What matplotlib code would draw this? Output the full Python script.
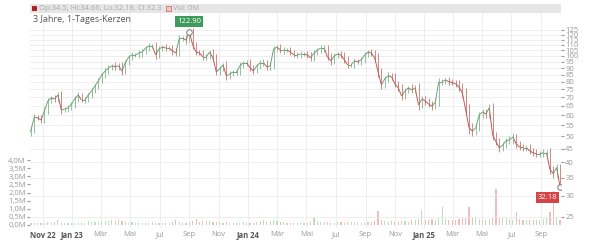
import matplotlib
matplotlib.use("Agg")
import matplotlib.pyplot as plt
import matplotlib.dates as mdates
from matplotlib.patches import Rectangle
from matplotlib.collections import LineCollection
import numpy as np
import pandas as pd

plt.rcParams['font.family'] = ['Open Sans', 'DejaVu Sans']

# weekly candles (close prices)
dates = pd.date_range("2022-10-07", periods=158, freq="7D")
closes = [52.8, 59.1, 58.6, 57.6, 62.3, 67.8, 69.6, 69.0, 71.4, 62.8,
          63.3, 63.9, 66.0, 69.0, 71.4, 68.4, 68.4, 71.4, 74.0, 77.2,
          80.6, 84.9, 87.8, 90.2, 91.8, 91.0, 91.8, 87.8, 94.2, 99.1,
          100.8, 100.8, 102.5, 103.4, 107.0, 108.8, 108.8, 100.8, 106.1, 107.9,
          107.0, 107.0, 104.3, 102.5, 116.4, 116.4, 114.7, 122.9, 109.8, 103.4,
          102.5, 99.1, 99.1, 103.4, 98.3, 87.1, 89.4, 92.5, 84.2, 85.6,
          87.1, 87.1, 91.8, 94.2, 94.2, 90.2, 87.8, 91.8, 94.2, 94.2,
          91.0, 91.8, 106.1, 107.9, 105.2, 105.2, 105.2, 103.4, 100.8, 100.8,
          101.6, 101.6, 100.8, 98.3, 102.5, 105.2, 107.0, 107.0, 99.1, 95.8,
          100.0, 101.6, 100.8, 96.6, 92.5, 92.5, 95.8, 95.0, 96.6, 100.8,
          103.4, 102.5, 98.3, 87.1, 77.9, 82.1, 84.2, 83.5, 78.6, 75.9,
          70.8, 74.0, 75.9, 74.6, 75.9, 65.5, 69.0, 67.8, 66.0, 64.9,
          67.2, 80.0, 80.0, 81.3, 80.0, 79.4, 78.6, 76.5, 72.7, 62.8,
          53.9, 52.3, 53.9, 60.1, 61.7, 60.6, 63.9, 50.6, 47.7, 45.3,
          46.4, 48.1, 48.5, 49.7, 46.8, 45.6, 45.3, 45.3, 44.1, 43.4,
          43.0, 43.0, 43.4, 43.4, 37.5, 36.3, 38.2, 32.3]
first_open = 51.5
last_low = 32.18

# weekly high-low spread around the body, in percent (read from wick lengths)
spreads = [6, 5, 4, 5, 6, 5, 4, 6, 5, 7,
           4, 5, 4, 6, 5, 4, 5, 4, 5, 4,
           5, 4, 6, 5, 4, 6, 5, 7, 5, 4,
           5, 4, 5, 6, 4, 5, 4, 7, 5, 4,
           5, 4, 6, 5, 5, 4, 6, 4, 7, 5,
           4, 6, 5, 4, 6, 6, 5, 4, 7, 5,
           4, 5, 6, 4, 5, 6, 5, 4, 5, 6,
           5, 6, 5, 4, 5, 6, 4, 5, 4, 5,
           6, 4, 5, 6, 5, 4, 5, 6, 5, 7,
           5, 4, 6, 5, 6, 4, 5, 4, 5, 6,
           4, 5, 6, 8, 7, 5, 6, 5, 6, 5,
           7, 5, 4, 6, 5, 9, 5, 6, 5, 6,
           5, 6, 5, 4, 5, 4, 5, 6, 7, 8,
           10, 8, 7, 6, 5, 6, 7, 8, 6, 7,
           6, 5, 6, 7, 6, 5, 6, 5, 6, 5,
           6, 5, 6, 5, 8, 7, 6, 6]

# volume in millions
volumes = [0.12, 0.10, 0.14, 0.12, 0.15, 0.18, 0.13, 0.16, 0.30, 0.14,
           0.12, 0.10, 0.11, 0.13, 0.15, 0.14, 0.12, 0.22, 0.18, 0.16,
           0.20, 0.24, 0.22, 0.26, 0.30, 0.25, 0.35, 0.22, 0.18, 0.15,
           0.16, 0.14, 0.12, 0.15, 0.13, 0.12, 0.18, 0.14, 0.12, 0.10,
           0.12, 0.14, 0.16, 0.30, 0.18, 0.15, 0.14, 0.20, 0.22, 0.35,
           0.20, 0.25, 0.22, 0.24, 0.18, 0.20, 0.16, 0.14, 0.18, 0.12,
           0.10, 0.12, 0.14, 0.16, 0.15, 0.12, 0.14, 0.20, 0.25, 0.28,
           0.20, 0.22, 0.30, 0.25, 0.18, 0.16, 0.14, 0.15, 0.13, 0.12,
           0.10, 0.12, 0.14, 0.16, 0.50, 0.22, 0.18, 0.16, 0.20, 0.15,
           0.14, 0.16, 0.18, 0.15, 0.20, 0.18, 0.16, 0.14, 0.12, 0.15,
           0.18, 0.20, 0.25, 0.85, 0.30, 0.25, 0.20, 0.22, 0.18, 0.20,
           0.25, 0.22, 0.20, 0.28, 0.30, 0.35, 0.90, 0.30, 0.28, 0.35,
           0.30, 0.40, 1.10, 0.35, 0.32, 0.30, 0.28, 0.35, 0.40, 0.45,
           1.10, 0.50, 0.40, 0.35, 0.38, 0.30, 0.35, 0.40, 2.20, 0.45,
           0.50, 0.40, 0.35, 0.30, 0.80, 0.35, 0.30, 0.28, 0.32, 0.30,
           0.28, 0.30, 0.35, 0.40, 0.80, 2.10, 0.45, 0.30]

price_ticks = list(range(25, 130, 5))
vol_ticks = [0.0, 0.5, 1.0, 1.5, 2.0, 2.5, 3.0, 3.5, 4.0]
month_names = {1: "Jan", 3: "Mär", 5: "Mai", 7: "Jul", 9: "Sep", 11: "Nov"}

UP = "#6aa578"
DOWN = "#bd5a58"

opens = [first_open] + closes[:-1]
colors = [UP if c >= o else DOWN for o, c in zip(opens, closes)]
vcolors = ["#bddcc4" if c == UP else "#efbcbc" for c in colors]
highs = [max(o, c) * (1 + s / 200) for o, c, s in zip(opens, closes, spreads)]
lows = [min(o, c) * (1 - s / 200) for o, c, s in zip(opens, closes, spreads)]
lows[-1] = last_low

fig = plt.figure(figsize=(6, 2.4), dpi=100)
ax = fig.add_axes([30 / 600, 12 / 240, 531 / 600, 215 / 240])
axp = ax.twinx()

# volume (left axis)
ax.bar(dates, volumes, width=2.4, color=vcolors, zorder=2)
ax.set_ylim(-0.185, 13.05)
ax.set_yticks(vol_ticks)
ax.set_yticklabels([f"{v:.1f}M".replace(".", ",") for v in vol_ticks])
ax.tick_params(axis="y", labelsize=5.5, colors="#999999", length=2, pad=1)

# candles (right axis, log): body drawn as segment open -> close, plus wicks
axp.set_yscale("log")
xnum = mdates.date2num(dates)
xprev = np.concatenate([[xnum[0] - 3.5], xnum[:-1]])
segs = [[(x0, o), (x1, c)] for x0, x1, o, c in zip(xprev, xnum, opens, closes)]
axp.add_collection(LineCollection(segs, colors=colors, linewidths=0.7, zorder=3))
axp.vlines(xnum, lows, highs, colors=colors, linewidth=0.5, zorder=3)
axp.set_ylim(22.7, 144.7)
axp.set_yticks(price_ticks)
axp.set_yticklabels([str(t) for t in price_ticks])
axp.yaxis.set_minor_locator(matplotlib.ticker.NullLocator())
axp.tick_params(axis="y", labelsize=5.5, colors="#999999", length=2, pad=1)
axp.grid(axis="y", color="#ebebeb", linewidth=0.6, zorder=0)

# x axis
ax.set_xlim(pd.Timestamp("2022-10-05"), pd.Timestamp("2025-10-12"))
xt = pd.date_range("2022-11-01", "2025-09-01", freq="2MS")
ax.set_xticks(xt)
labels = []
for i, d in enumerate(xt):
    if d.month == 1 or i == 0:
        labels.append(f"{month_names[d.month]} {d.year % 100}")
    else:
        labels.append(month_names[d.month])
ax.set_xticklabels(labels)
ax.tick_params(axis="x", labelsize=5.5, colors="#999999", length=0, pad=2)
for lbl, d in zip(ax.get_xticklabels(), xt):
    if d.month == 1 or d == xt[0]:
        lbl.set_fontweight("bold")
        lbl.set_color("#555555")
ax.grid(axis="x", color="#ebebeb", linewidth=0.6, zorder=0)
ax.set_axisbelow(True)

for a in (ax, axp):
    for s in a.spines.values():
        s.set_visible(False)

# high / low markers
imax = int(np.argmax(closes))
axp.plot(dates[imax], closes[imax], "o", ms=4, mfc="white", mec="#777777", mew=0.7, zorder=5)
axp.annotate(f"{closes[imax]:.2f}", xy=(dates[imax], closes[imax]), xytext=(0, 7.5),
             textcoords="offset points", ha="center", va="center", fontsize=5.5, color="white",
             bbox=dict(boxstyle="square,pad=0.25", fc="#3d9b5c", ec="none"), zorder=6)
axp.plot(dates[-1], last_low, "o", ms=4, mfc="white", mec="#777777", mew=0.7, zorder=5)
axp.annotate(f"{last_low:.2f}", xy=(dates[-1], last_low), xytext=(-9, -7),
             textcoords="offset points", ha="center", va="center", fontsize=5.5, color="white",
             bbox=dict(boxstyle="square,pad=0.25", fc="#d64545", ec="none"), zorder=6)

# legend band + title
fig.patches.append(Rectangle((30 / 600, 1 - 13 / 240), 531 / 600, 9 / 240,
                             transform=fig.transFigure, fc="#e6e6e6", ec="none"))
fig.patches.append(Rectangle((32 / 600, 1 - 11 / 240), 5 / 600, 5 / 240,
                             transform=fig.transFigure, fc="#b22222", ec="none"))
fig.text(39 / 600, 1 - 8.5 / 240, "Op:34.5, Hi:34.66, Lo:32.18, Cl:32.3",
         fontsize=5.5, color="#aaaaaa", va="center")
fig.patches.append(Rectangle((166 / 600, 1 - 11 / 240), 5 / 600, 5 / 240,
                             transform=fig.transFigure, fc="#f4c6c6", ec="#c06060", lw=0.5))
fig.text(173 / 600, 1 - 8.5 / 240, "Vol: 0M", fontsize=5.5, color="#aaaaaa", va="center")
fig.text(33 / 600, 1 - 20 / 240, "3 Jahre, 1-Tages-Kerzen", fontsize=6.5, color="#555555",
         va="center")

fig.savefig("out.png", dpi=100)
